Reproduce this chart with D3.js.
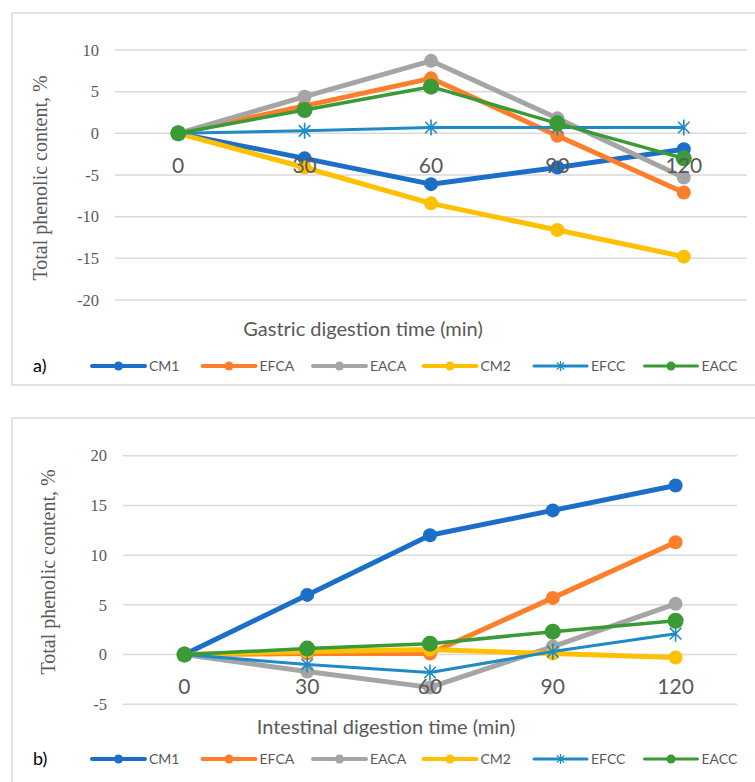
<!DOCTYPE html>
<html>
<head>
<meta charset="utf-8">
<script src="https://cdn.jsdelivr.net/npm/d3@7"></script>
<style>
  body { margin: 0; background: #fff; }
  svg { display: block; }
  .grid line { stroke: #d9d9d9; stroke-width: 1.5; }
  .ytick { font-family: "Liberation Serif", serif; font-size: 16.5px; fill: #595959; }
  .ytitle { font-family: "Liberation Serif", serif; font-size: 20px; fill: #595959; }
  .xcat { font-family: Lato, sans-serif; font-size: 21px; fill: #595959; }
  .xtitle { font-family: Lato, sans-serif; font-size: 20px; fill: #595959; }
  .legend text { font-family: Lato, sans-serif; font-size: 14px; fill: #595959; }
  .tag { font-family: Lato, sans-serif; font-size: 18px; fill: #000; }
</style>
</head>
<body>
<svg id="chart" width="755" height="782"></svg>
<script>
// time points (min)
const times = ['0', '30', '60', '90', '120'];
const seriesNames = ['CM1', 'EFCA', 'EACA', 'CM2', 'EFCC', 'EACC'];

// a) gastric digestion, total phenolic content change %
const gastricCM1  = [0, -3.0, -6.1, -4.1, -1.9];
const gastricEFCA = [0, 3.3, 6.6, -0.3, -7.1];
const gastricEACA = [0, 4.4, 8.7, 1.8, -5.3];
const gastricCM2  = [0, -4.1, -8.4, -11.6, -14.8];
const gastricEFCC = [0, 0.3, 0.7, 0.7, 0.7];
const gastricEACC = [0, 2.8, 5.6, 1.2, -3.0];

// b) intestinal digestion
const intestCM1  = [0, 6.0, 12.0, 14.5, 17.0];
const intestEFCA = [0, 0.1, 0.1, 5.7, 11.3];
const intestEACA = [0, -1.7, -3.3, 0.8, 5.1];
const intestCM2  = [0, 0.3, 0.5, 0.1, -0.3];
const intestEFCC = [0, -1.0, -1.8, 0.3, 2.1];
const intestEACC = [0, 0.6, 1.1, 2.3, 3.4];

const gastricTicks = [-20, -15, -10, -5, 0, 5, 10];
const intestTicks = [-5, 0, 5, 10, 15, 20];

// look of each series (Excel style)
const styles = {
  CM1:  { color: '#1b6fc8', width: 5,   r: 7, marker: 'circle' },
  EFCA: { color: '#fd7e2b', width: 5,   r: 7, marker: 'circle' },
  EACA: { color: '#a5a5a5', width: 5,   r: 7, marker: 'circle' },
  CM2:  { color: '#ffc000', width: 5,   r: 7, marker: 'circle' },
  EFCC: { color: '#1f8bc6', width: 3,   r: 8, marker: 'star' },
  EACC: { color: '#3a9a35', width: 3.5, r: 8, marker: 'circle' }
};

const svg = d3.select('#chart');

function starPath(r) {
  const d = r * 0.72;
  return `M${-d},${-d}L${d},${d}M${-d},${d}L${d},${-d}M0,${-r}L0,${r}`;
}

function drawMarker(g, name, x, y, small) {
  const s = styles[name];
  if (s.marker === 'star') {
    g.append('path')
      .attr('d', starPath(small ? 5 : s.r))
      .attr('transform', `translate(${x},${y})`)
      .attr('stroke', s.color)
      .attr('stroke-width', small ? 1.3 : 1.6)
      .attr('fill', 'none');
  } else {
    g.append('circle')
      .attr('cx', x).attr('cy', y)
      .attr('r', small ? 4.5 : s.r)
      .attr('fill', s.color);
  }
}

function drawPanel(p) {
  const g = svg.append('g');

  // frame
  g.append('rect')
    .attr('x', p.frame[0]).attr('y', p.frame[1])
    .attr('width', p.frame[2]).attr('height', p.frame[3])
    .attr('fill', 'none').attr('stroke', '#d9d9d9').attr('stroke-width', 1.5);

  const x = d3.scalePoint().domain(times).range([p.left, p.right]).padding(0.5);
  const y = d3.scaleLinear().domain(p.domain).range([p.bottom, p.top]);

  // gridlines
  g.append('g').attr('class', 'grid')
    .selectAll('line').data(p.ticks).enter().append('line')
    .attr('x1', p.left).attr('x2', p.right)
    .attr('y1', d => y(d)).attr('y2', d => y(d));

  // y tick labels
  g.selectAll('.ytick').data(p.ticks).enter().append('text')
    .attr('class', 'ytick')
    .attr('x', p.left - 16)
    .attr('y', d => y(d))
    .attr('dy', '0.35em')
    .attr('text-anchor', 'end')
    .text(d => d);

  // series
  const line = d3.line().x((d, i) => x(times[i])).y(d => y(d));
  p.series.forEach((vals, k) => {
    const name = seriesNames[k];
    const s = styles[name];
    const sg = g.append('g');
    sg.append('path')
      .attr('d', line(vals))
      .attr('fill', 'none')
      .attr('stroke', s.color)
      .attr('stroke-width', s.width)
      .attr('stroke-linejoin', 'round')
      .attr('stroke-linecap', 'round');
    vals.forEach((v, i) => drawMarker(sg, name, x(times[i]), y(v), false));
  });

  // category labels sit under the zero line, drawn over the lines
  g.selectAll('.xcat').data(times).enter().append('text')
    .attr('class', 'xcat')
    .attr('x', d => x(d))
    .attr('y', y(0) + 32)
    .attr('dy', '0.35em')
    .attr('text-anchor', 'middle')
    .text(d => d);

  // axis titles
  g.append('text').attr('class', 'ytitle')
    .attr('transform', `translate(${p.ytitleX},${p.ytitleY}) rotate(-90)`)
    .attr('text-anchor', 'middle')
    .attr('dy', '0.35em')
    .text('Total phenolic content, %');

  g.append('text').attr('class', 'xtitle')
    .attr('x', p.xtitleX).attr('y', p.xtitleY)
    .attr('dy', '0.35em')
    .attr('text-anchor', 'middle')
    .text(p.xtitle);

  g.append('text').attr('class', 'tag')
    .attr('x', 33).attr('y', p.legendY)
    .attr('dy', '0.35em')
    .text(p.tag);

  // legend
  const lg = g.append('g').attr('class', 'legend');
  seriesNames.forEach((name, k) => {
    const s = styles[name];
    const x0 = 92 + k * 110.5;
    lg.append('line')
      .attr('x1', x0).attr('x2', x0 + 53)
      .attr('y1', p.legendY).attr('y2', p.legendY)
      .attr('stroke', s.color)
      .attr('stroke-width', s.width >= 5 ? 4 : 3)
      .attr('stroke-linecap', 'round');
    drawMarker(lg, name, x0 + 26.5, p.legendY, true);
    lg.append('text')
      .attr('x', x0 + 57).attr('y', p.legendY)
      .attr('dy', '0.35em')
      .text(name);
  });
}

drawPanel({
  frame: [12, 13, 760, 372],
  left: 115, right: 747, top: 50, bottom: 300,
  domain: [-20, 10], ticks: gastricTicks,
  series: [gastricCM1, gastricEFCA, gastricEACA, gastricCM2, gastricEFCC, gastricEACC],
  ytitleX: 40, ytitleY: 178,
  xtitle: 'Gastric digestion time (min)', xtitleX: 363, xtitleY: 329,
  legendY: 366, tag: 'a)'
});

drawPanel({
  frame: [12, 418, 760, 380],
  left: 123, right: 737, top: 455.7, bottom: 704.3,
  domain: [-5, 20], ticks: intestTicks,
  series: [intestCM1, intestEFCA, intestEACA, intestCM2, intestEFCC, intestEACC],
  ytitleX: 48, ytitleY: 572,
  xtitle: 'Intestinal digestion time (min)', xtitleX: 386, xtitleY: 727,
  legendY: 759, tag: 'b)'
});
</script>
</body>
</html>
